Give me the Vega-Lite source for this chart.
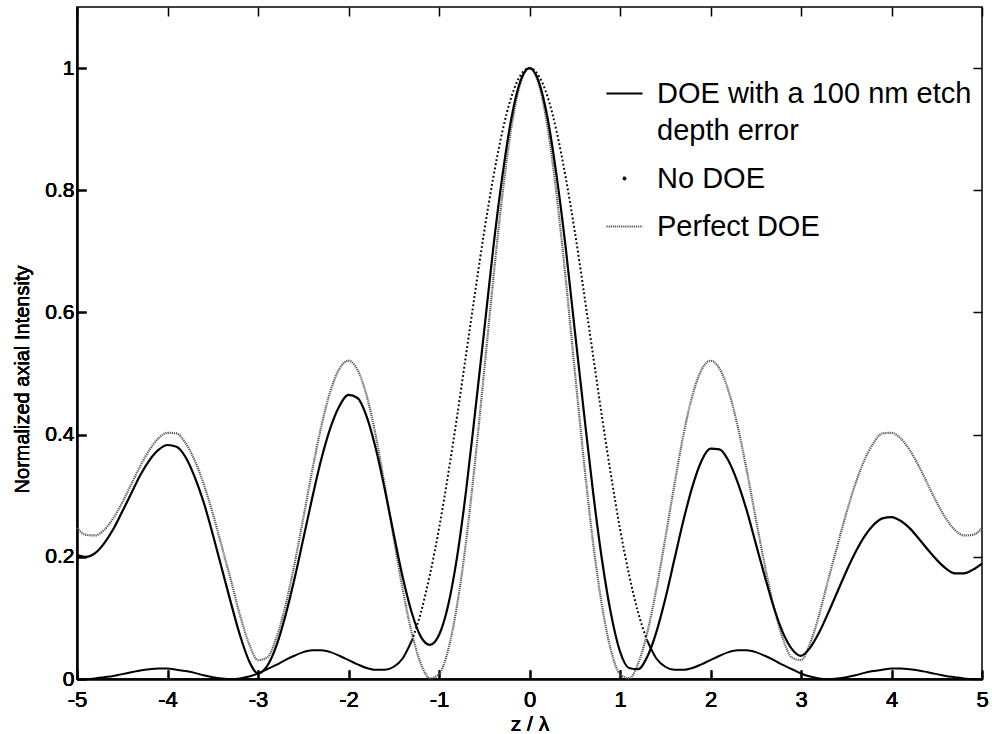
{
  "$schema": "https://vega.github.io/schema/vega-lite/v6.json",
  "width": 905,
  "height": 672,
  "autosize": {"type": "none"},
  "padding": {"left": 77, "top": 7, "right": 10, "bottom": 55},
  "background": "white",
  "config": {
    "view": {"stroke": "black", "strokeWidth": 1.5},
    "font": "Liberation Sans",
    "axis": {"domainColor": "black", "domainWidth": 1.5, "tickColor": "black", "tickWidth": 1.5, "labelColor": "black", "titleColor": "black", "grid": false, "labelFont": "Liberation Sans", "titleFont": "Liberation Sans", "titleFontWeight": "normal", "labelFontWeight": "normal"}
  },
  "data": {"values": [
    {"z": -5.0, "DOE with a 100 nm etch depth error": 0.203, "No DOE": 0.0, "Perfect DOE": 0.247},
    {"z": -4.9, "DOE with a 100 nm etch depth error": 0.200, "No DOE": 0.0, "Perfect DOE": 0.236},
    {"z": -4.8, "DOE with a 100 nm etch depth error": 0.206, "No DOE": 0.001, "Perfect DOE": 0.235},
    {"z": -4.7, "DOE with a 100 nm etch depth error": 0.222, "No DOE": 0.003, "Perfect DOE": 0.244},
    {"z": -4.6, "DOE with a 100 nm etch depth error": 0.245, "No DOE": 0.005, "Perfect DOE": 0.263},
    {"z": -4.5, "DOE with a 100 nm etch depth error": 0.274, "No DOE": 0.008, "Perfect DOE": 0.289},
    {"z": -4.4, "DOE with a 100 nm etch depth error": 0.304, "No DOE": 0.011, "Perfect DOE": 0.319},
    {"z": -4.3, "DOE with a 100 nm etch depth error": 0.334, "No DOE": 0.014, "Perfect DOE": 0.349},
    {"z": -4.2, "DOE with a 100 nm etch depth error": 0.358, "No DOE": 0.016, "Perfect DOE": 0.375},
    {"z": -4.1, "DOE with a 100 nm etch depth error": 0.375, "No DOE": 0.017, "Perfect DOE": 0.394},
    {"z": -4.0, "DOE with a 100 nm etch depth error": 0.383, "No DOE": 0.017, "Perfect DOE": 0.403},
    {"z": -3.9, "DOE with a 100 nm etch depth error": 0.380, "No DOE": 0.015, "Perfect DOE": 0.402},
    {"z": -3.8, "DOE with a 100 nm etch depth error": 0.363, "No DOE": 0.013, "Perfect DOE": 0.386},
    {"z": -3.7, "DOE with a 100 nm etch depth error": 0.331, "No DOE": 0.010, "Perfect DOE": 0.358},
    {"z": -3.6, "DOE with a 100 nm etch depth error": 0.289, "No DOE": 0.006, "Perfect DOE": 0.319},
    {"z": -3.5, "DOE with a 100 nm etch depth error": 0.237, "No DOE": 0.003, "Perfect DOE": 0.271},
    {"z": -3.4, "DOE with a 100 nm etch depth error": 0.181, "No DOE": 0.001, "Perfect DOE": 0.217},
    {"z": -3.3, "DOE with a 100 nm etch depth error": 0.125, "No DOE": 0.0, "Perfect DOE": 0.162},
    {"z": -3.2, "DOE with a 100 nm etch depth error": 0.072, "No DOE": 0.001, "Perfect DOE": 0.105},
    {"z": -3.1, "DOE with a 100 nm etch depth error": 0.030, "No DOE": 0.004, "Perfect DOE": 0.058},
    {"z": -3.0, "DOE with a 100 nm etch depth error": 0.009, "No DOE": 0.009, "Perfect DOE": 0.031},
    {"z": -2.9, "DOE with a 100 nm etch depth error": 0.021, "No DOE": 0.016, "Perfect DOE": 0.035},
    {"z": -2.8, "DOE with a 100 nm etch depth error": 0.053, "No DOE": 0.023, "Perfect DOE": 0.066},
    {"z": -2.7, "DOE with a 100 nm etch depth error": 0.102, "No DOE": 0.031, "Perfect DOE": 0.118},
    {"z": -2.6, "DOE with a 100 nm etch depth error": 0.162, "No DOE": 0.038, "Perfect DOE": 0.186},
    {"z": -2.5, "DOE with a 100 nm etch depth error": 0.229, "No DOE": 0.044, "Perfect DOE": 0.263},
    {"z": -2.4, "DOE with a 100 nm etch depth error": 0.297, "No DOE": 0.047, "Perfect DOE": 0.342},
    {"z": -2.3, "DOE with a 100 nm etch depth error": 0.360, "No DOE": 0.047, "Perfect DOE": 0.414},
    {"z": -2.2, "DOE with a 100 nm etch depth error": 0.411, "No DOE": 0.044, "Perfect DOE": 0.471},
    {"z": -2.1, "DOE with a 100 nm etch depth error": 0.447, "No DOE": 0.038, "Perfect DOE": 0.508},
    {"z": -2.0, "DOE with a 100 nm etch depth error": 0.465, "No DOE": 0.031, "Perfect DOE": 0.521},
    {"z": -1.9, "DOE with a 100 nm etch depth error": 0.460, "No DOE": 0.024, "Perfect DOE": 0.506},
    {"z": -1.8, "DOE with a 100 nm etch depth error": 0.430, "No DOE": 0.018, "Perfect DOE": 0.464},
    {"z": -1.7, "DOE with a 100 nm etch depth error": 0.378, "No DOE": 0.015, "Perfect DOE": 0.399},
    {"z": -1.6, "DOE with a 100 nm etch depth error": 0.311, "No DOE": 0.015, "Perfect DOE": 0.317},
    {"z": -1.5, "DOE with a 100 nm etch depth error": 0.237, "No DOE": 0.020, "Perfect DOE": 0.230},
    {"z": -1.4, "DOE with a 100 nm etch depth error": 0.166, "No DOE": 0.034, "Perfect DOE": 0.146},
    {"z": -1.3, "DOE with a 100 nm etch depth error": 0.108, "No DOE": 0.063, "Perfect DOE": 0.075},
    {"z": -1.2, "DOE with a 100 nm etch depth error": 0.069, "No DOE": 0.109, "Perfect DOE": 0.025},
    {"z": -1.1, "DOE with a 100 nm etch depth error": 0.056, "No DOE": 0.171, "Perfect DOE": 0.001},
    {"z": -1.0, "DOE with a 100 nm etch depth error": 0.072, "No DOE": 0.246, "Perfect DOE": 0.008},
    {"z": -0.9, "DOE with a 100 nm etch depth error": 0.120, "No DOE": 0.334, "Perfect DOE": 0.047},
    {"z": -0.8, "DOE with a 100 nm etch depth error": 0.200, "No DOE": 0.430, "Perfect DOE": 0.121},
    {"z": -0.7, "DOE with a 100 nm etch depth error": 0.309, "No DOE": 0.532, "Perfect DOE": 0.226},
    {"z": -0.6, "DOE with a 100 nm etch depth error": 0.438, "No DOE": 0.634, "Perfect DOE": 0.358},
    {"z": -0.5, "DOE with a 100 nm etch depth error": 0.571, "No DOE": 0.733, "Perfect DOE": 0.505},
    {"z": -0.4, "DOE with a 100 nm etch depth error": 0.706, "No DOE": 0.821, "Perfect DOE": 0.655},
    {"z": -0.3, "DOE with a 100 nm etch depth error": 0.823, "No DOE": 0.896, "Perfect DOE": 0.792},
    {"z": -0.2, "DOE with a 100 nm etch depth error": 0.918, "No DOE": 0.953, "Perfect DOE": 0.903},
    {"z": -0.1, "DOE with a 100 nm etch depth error": 0.979, "No DOE": 0.988, "Perfect DOE": 0.975},
    {"z": 0.0, "DOE with a 100 nm etch depth error": 1.000, "No DOE": 1.0, "Perfect DOE": 1.0},
    {"z": 0.1, "DOE with a 100 nm etch depth error": 0.979, "No DOE": 0.988, "Perfect DOE": 0.975},
    {"z": 0.2, "DOE with a 100 nm etch depth error": 0.918, "No DOE": 0.953, "Perfect DOE": 0.903},
    {"z": 0.3, "DOE with a 100 nm etch depth error": 0.823, "No DOE": 0.896, "Perfect DOE": 0.792},
    {"z": 0.4, "DOE with a 100 nm etch depth error": 0.706, "No DOE": 0.821, "Perfect DOE": 0.655},
    {"z": 0.5, "DOE with a 100 nm etch depth error": 0.571, "No DOE": 0.733, "Perfect DOE": 0.505},
    {"z": 0.6, "DOE with a 100 nm etch depth error": 0.438, "No DOE": 0.634, "Perfect DOE": 0.358},
    {"z": 0.7, "DOE with a 100 nm etch depth error": 0.309, "No DOE": 0.532, "Perfect DOE": 0.226},
    {"z": 0.8, "DOE with a 100 nm etch depth error": 0.196, "No DOE": 0.430, "Perfect DOE": 0.121},
    {"z": 0.9, "DOE with a 100 nm etch depth error": 0.107, "No DOE": 0.334, "Perfect DOE": 0.047},
    {"z": 1.0, "DOE with a 100 nm etch depth error": 0.045, "No DOE": 0.246, "Perfect DOE": 0.008},
    {"z": 1.1, "DOE with a 100 nm etch depth error": 0.018, "No DOE": 0.171, "Perfect DOE": 0.001},
    {"z": 1.2, "DOE with a 100 nm etch depth error": 0.016, "No DOE": 0.109, "Perfect DOE": 0.025},
    {"z": 1.3, "DOE with a 100 nm etch depth error": 0.036, "No DOE": 0.063, "Perfect DOE": 0.075},
    {"z": 1.4, "DOE with a 100 nm etch depth error": 0.076, "No DOE": 0.034, "Perfect DOE": 0.146},
    {"z": 1.5, "DOE with a 100 nm etch depth error": 0.131, "No DOE": 0.020, "Perfect DOE": 0.230},
    {"z": 1.6, "DOE with a 100 nm etch depth error": 0.195, "No DOE": 0.015, "Perfect DOE": 0.317},
    {"z": 1.7, "DOE with a 100 nm etch depth error": 0.259, "No DOE": 0.015, "Perfect DOE": 0.399},
    {"z": 1.8, "DOE with a 100 nm etch depth error": 0.315, "No DOE": 0.018, "Perfect DOE": 0.464},
    {"z": 1.9, "DOE with a 100 nm etch depth error": 0.357, "No DOE": 0.024, "Perfect DOE": 0.506},
    {"z": 2.0, "DOE with a 100 nm etch depth error": 0.377, "No DOE": 0.031, "Perfect DOE": 0.521},
    {"z": 2.1, "DOE with a 100 nm etch depth error": 0.376, "No DOE": 0.038, "Perfect DOE": 0.508},
    {"z": 2.2, "DOE with a 100 nm etch depth error": 0.357, "No DOE": 0.044, "Perfect DOE": 0.471},
    {"z": 2.3, "DOE with a 100 nm etch depth error": 0.322, "No DOE": 0.047, "Perfect DOE": 0.414},
    {"z": 2.4, "DOE with a 100 nm etch depth error": 0.276, "No DOE": 0.047, "Perfect DOE": 0.342},
    {"z": 2.5, "DOE with a 100 nm etch depth error": 0.222, "No DOE": 0.044, "Perfect DOE": 0.263},
    {"z": 2.6, "DOE with a 100 nm etch depth error": 0.168, "No DOE": 0.038, "Perfect DOE": 0.186},
    {"z": 2.7, "DOE with a 100 nm etch depth error": 0.117, "No DOE": 0.031, "Perfect DOE": 0.118},
    {"z": 2.8, "DOE with a 100 nm etch depth error": 0.076, "No DOE": 0.023, "Perfect DOE": 0.066},
    {"z": 2.9, "DOE with a 100 nm etch depth error": 0.049, "No DOE": 0.016, "Perfect DOE": 0.035},
    {"z": 3.0, "DOE with a 100 nm etch depth error": 0.038, "No DOE": 0.009, "Perfect DOE": 0.031},
    {"z": 3.1, "DOE with a 100 nm etch depth error": 0.051, "No DOE": 0.004, "Perfect DOE": 0.058},
    {"z": 3.2, "DOE with a 100 nm etch depth error": 0.076, "No DOE": 0.001, "Perfect DOE": 0.105},
    {"z": 3.3, "DOE with a 100 nm etch depth error": 0.108, "No DOE": 0.0, "Perfect DOE": 0.162},
    {"z": 3.4, "DOE with a 100 nm etch depth error": 0.142, "No DOE": 0.001, "Perfect DOE": 0.217},
    {"z": 3.5, "DOE with a 100 nm etch depth error": 0.176, "No DOE": 0.003, "Perfect DOE": 0.271},
    {"z": 3.6, "DOE with a 100 nm etch depth error": 0.207, "No DOE": 0.006, "Perfect DOE": 0.319},
    {"z": 3.7, "DOE with a 100 nm etch depth error": 0.233, "No DOE": 0.010, "Perfect DOE": 0.358},
    {"z": 3.8, "DOE with a 100 nm etch depth error": 0.252, "No DOE": 0.013, "Perfect DOE": 0.386},
    {"z": 3.9, "DOE with a 100 nm etch depth error": 0.263, "No DOE": 0.015, "Perfect DOE": 0.402},
    {"z": 4.0, "DOE with a 100 nm etch depth error": 0.265, "No DOE": 0.017, "Perfect DOE": 0.403},
    {"z": 4.1, "DOE with a 100 nm etch depth error": 0.259, "No DOE": 0.017, "Perfect DOE": 0.394},
    {"z": 4.2, "DOE with a 100 nm etch depth error": 0.247, "No DOE": 0.016, "Perfect DOE": 0.375},
    {"z": 4.3, "DOE with a 100 nm etch depth error": 0.230, "No DOE": 0.014, "Perfect DOE": 0.349},
    {"z": 4.4, "DOE with a 100 nm etch depth error": 0.212, "No DOE": 0.011, "Perfect DOE": 0.319},
    {"z": 4.5, "DOE with a 100 nm etch depth error": 0.195, "No DOE": 0.008, "Perfect DOE": 0.289},
    {"z": 4.6, "DOE with a 100 nm etch depth error": 0.181, "No DOE": 0.005, "Perfect DOE": 0.263},
    {"z": 4.7, "DOE with a 100 nm etch depth error": 0.173, "No DOE": 0.003, "Perfect DOE": 0.244},
    {"z": 4.8, "DOE with a 100 nm etch depth error": 0.173, "No DOE": 0.001, "Perfect DOE": 0.235},
    {"z": 4.9, "DOE with a 100 nm etch depth error": 0.179, "No DOE": 0.0, "Perfect DOE": 0.236},
    {"z": 5.0, "DOE with a 100 nm etch depth error": 0.189, "No DOE": 0.0, "Perfect DOE": 0.247}
  ]},
  "transform": [
    {"fold": ["DOE with a 100 nm etch depth error", "No DOE", "Perfect DOE"], "as": ["series", "intensity"]}
  ],
  "encoding": {
    "x": {
      "field": "z", "type": "quantitative",
      "scale": {"domain": [-5, 5], "nice": false, "zero": false},
      "axis": {
        "orient": "bottom", "values": [-5, -4, -3, -2, -1, 0, 1, 2, 3, 4, 5],
        "tickSize": -9, "labelPadding": 19, "labelFontSize": 22,
        "labelExpr": "datum.value < 0 ? '-' + abs(datum.value) : '' + datum.value",
        "labelFlush": false, "labelOverlap": false,
        "title": "z / λ", "titleFontSize": 21, "titleY": 45, "titleBaseline": "middle"
      }
    },
    "y": {
      "field": "intensity", "type": "quantitative",
      "scale": {"domain": [0, 1.1], "nice": false},
      "axis": {
        "orient": "left", "values": [0, 0.2, 0.4, 0.6, 0.8, 1],
        "tickSize": -9, "labelPadding": 12, "labelFontSize": 21,
        "labelExpr": "'' + datum.value",
        "labelFlush": false, "labelOverlap": false,
        "title": "Normalized axial Intensity", "titleFontSize": 20,
        "titleX": -55, "titleY": 372, "titleAngle": -90, "titleAlign": "center", "titleBaseline": "middle"
      }
    }
  },
  "layer": [
    {
      "transform": [{"filter": "datum.series === 'Perfect DOE'"}],
      "mark": {"type": "line", "strokeWidth": 2.2, "strokeDash": [1.2, 0.9], "interpolate": "monotone"},
      "encoding": {
        "color": {
          "field": "series", "type": "nominal",
          "scale": {"domain": ["DOE with a 100 nm etch depth error", "No DOE", "Perfect DOE"], "range": ["#000000", "#000000", "#555555"]},
          "legend": {
            "title": null, "orient": "none", "legendX": 528, "legendY": 67,
            "symbolType": "stroke", "symbolSize": 1300, "symbolStrokeWidth": 2,
            "labelFontSize": 29, "labelFont": "Liberation Sans", "labelColor": "black",
            "labelOffset": 13, "rowPadding": 13, "labelLimit": 500,
            "labelExpr": "datum.label === 'DOE with a 100 nm etch depth error' ? ['DOE with a 100 nm etch', 'depth error'] : datum.label",
            "encode": {
              "labels": {"update": {"lineHeight": {"value": 37}}},
              "symbols": {"update": {
                "shape": {"signal": "datum.label === 'No DOE' ? 'circle' : 'stroke'"},
                "size": {"signal": "datum.label === 'No DOE' ? 4 : 1300"},
                "fill": {"signal": "datum.label === 'No DOE' ? '#000000' : 'transparent'"},
                "strokeDash": {"signal": "datum.label === 'Perfect DOE' ? [1.2, 0.9] : [1, 0]"}
              }}
            }
          }
        }
      }
    },
    {
      "transform": [{"filter": "datum.series === 'No DOE' && abs(datum.z) <= 1.3"}],
      "mark": {"type": "line", "strokeWidth": 2, "strokeDash": [1.8, 2.4], "interpolate": "monotone"},
      "encoding": {"color": {"field": "series", "type": "nominal"}}
    },
    {
      "transform": [{"filter": "datum.series === 'No DOE' && datum.z <= -1.3"}],
      "mark": {"type": "line", "strokeWidth": 2, "interpolate": "monotone"},
      "encoding": {"color": {"field": "series", "type": "nominal"}}
    },
    {
      "transform": [{"filter": "datum.series === 'No DOE' && datum.z >= 1.3"}],
      "mark": {"type": "line", "strokeWidth": 2, "interpolate": "monotone"},
      "encoding": {"color": {"field": "series", "type": "nominal"}}
    },
    {
      "transform": [{"filter": "datum.series === 'DOE with a 100 nm etch depth error'"}],
      "mark": {"type": "line", "strokeWidth": 2.2, "interpolate": "monotone"},
      "encoding": {"color": {"field": "series", "type": "nominal"}}
    },
    {
      "mark": {"type": "point", "opacity": 0},
      "encoding": {
        "x": {
          "field": "z", "type": "quantitative",
          "axis": {"orient": "top", "values": [-5, -4, -3, -2, -1, 0, 1, 2, 3, 4, 5], "tickSize": -9, "labels": false, "domain": false, "title": null}
        },
        "y": {
          "field": "intensity", "type": "quantitative",
          "axis": {"orient": "right", "values": [0, 0.2, 0.4, 0.6, 0.8, 1], "tickSize": -9, "labels": false, "domain": false, "title": null}
        }
      }
    }
  ]
}
